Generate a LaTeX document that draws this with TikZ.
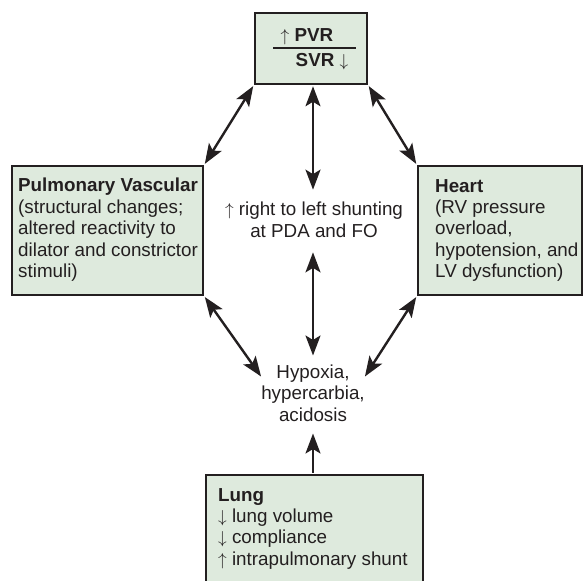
\documentclass[tikz,border=0pt]{standalone}
\usepackage{fontspec}
\setmainfont{Liberation Sans}
\usetikzlibrary{arrows.meta}
\definecolor{boxfill}{RGB}{222,234,221}
\definecolor{ink}{RGB}{35,31,32}
\newcommand{\upar}{$\uparrow$}
\newcommand{\dnar}{$\downarrow$}
\tikzset{
  box/.style={draw=ink, line width=2.5pt, fill=boxfill, rectangle, inner sep=0pt},
  txt/.style={text=ink, inner sep=0pt, font=\fontsize{18.8}{21.4}\selectfont},
  conn/.style={draw=ink, line width=2.4pt, {Stealth[length=20pt,width=15pt,inset=4.5pt]}-{Stealth[length=20pt,width=15pt,inset=4.5pt]}},
  oneway/.style={draw=ink, line width=2.4pt, -{Stealth[length=20pt,width=15pt,inset=4.5pt]}}
}
\begin{document}
\begin{tikzpicture}[x=1pt,y=-1pt]
\useasboundingbox (0,0) rectangle (585,580);
% boxes
\node[box, minimum width=112pt, minimum height=71pt] (top) at (311,48.5) {};
\node[box, minimum width=191pt, minimum height=129pt] (pv) at (107.5,230.5) {};
\node[box, minimum width=164pt, minimum height=129pt] (heart) at (500,230.5) {};
\node[box, minimum width=217pt, minimum height=110pt] (lung) at (314.5,530) {};
% box texts
\node[txt, font=\fontsize{18.8}{21.4}\selectfont\bfseries] (pvr) at (307,36.5) {\upar\ PVR};
\node[txt, font=\fontsize{18.8}{21.4}\selectfont\bfseries] (svr) at (322,62) {SVR \dnar};
\draw[ink, line width=1.2pt] (273,48) -- (356,48);
\node[txt, anchor=north west, align=left] (pvt) at (18,178)
  {\textbf{Pulmonary Vascular}\\(structural changes;\\altered reactivity to\\dilator and constrictor\\stimuli)};
\node[txt, anchor=north west, align=left] (ht) at (435,179)
  {\textbf{Heart}\\(RV pressure\\overload,\\hypotension, and\\LV dysfunction)};
\node[txt, anchor=north west, align=left] (lt) at (218,488)
  {\textbf{Lung}\\\dnar\ lung volume\\\dnar\ compliance\\\upar\ intrapulmonary shunt};
% free texts
\node[txt, align=center, font=\fontsize{18.8}{22.5}\selectfont] (mid) at (314,220)
  {\upar\ right to left shunting\\at PDA and FO};
\node[txt, align=center] (hyp) at (313,393)
  {Hypoxia,\\hypercarbia,\\acidosis};
% connectors
\draw[conn, shorten <=1pt, shorten >=1pt] (top.south west) -- (pv.north east);
\draw[conn, shorten <=1pt, shorten >=1pt] (top.south east) -- (heart.north west);
\draw[conn, shorten <=1pt, shorten >=12pt] (top.south -| hyp.north) -- (hyp.north |- mid.north);
\draw[conn, shorten <=14pt, shorten >=9pt] (mid.south -| hyp.north) -- (hyp.north);
\draw[conn, shorten <=1pt] (pv.south east) -- ([yshift=-12pt]hyp.north west);
\draw[conn, shorten <=1pt] (heart.south west) -- ([yshift=-12pt]hyp.north east);
\draw[oneway, shorten <=1.2pt, shorten >=12pt] (lung.north -| hyp.south) -- (hyp.south);
\end{tikzpicture}
\end{document}
